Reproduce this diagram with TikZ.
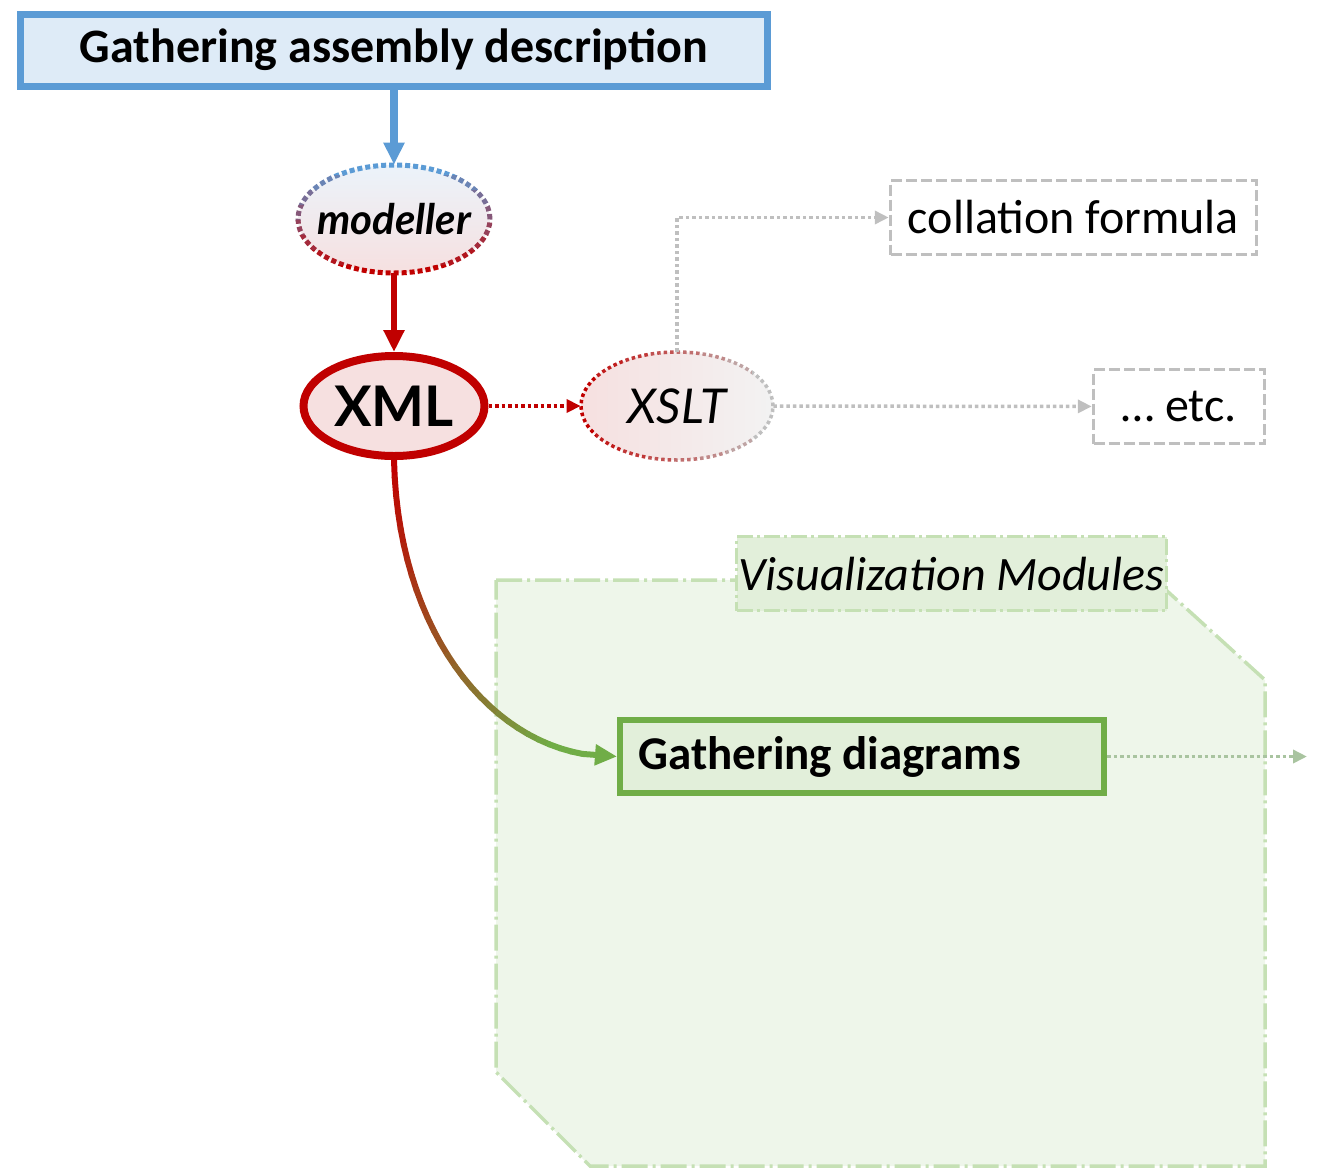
\documentclass[tikz,border=0pt]{standalone}
\usepackage{fontspec}
\setmainfont{Carlito}
\newfontfamily\gillfont{Lato}
\usetikzlibrary{arrows.meta,shapes.geometric}
\definecolor{blueline}{HTML}{5B9BD5}
\definecolor{bluefill}{HTML}{DEEBF7}
\definecolor{redline}{HTML}{C00000}
\definecolor{redfill}{HTML}{F6E0E0}
\definecolor{greyline}{HTML}{BFBFBF}
\definecolor{greenline}{HTML}{70AD47}
\definecolor{greenfill}{HTML}{E2EFDA}
\definecolor{greenpale}{HTML}{C5E0B4}
\definecolor{greenarea}{HTML}{EEF6EA}
\definecolor{greenout}{HTML}{A9C4A0}
\begin{document}
\begin{tikzpicture}[x=0.5pt,y=-0.5pt]
        \tikzstyle{bigfont}=[font=\fontsize{24}{28}\selectfont]
        \tikzstyle{topbox}=[rectangle,bigfont,draw=blueline,fill=bluefill,line width=3.5pt,minimum width=373.5pt,minimum height=36pt,inner sep=0pt]
        \tikzstyle{oval}=[ellipse,minimum width=96pt,minimum height=54pt,inner sep=0pt]
        \tikzstyle{greybox}=[rectangle,bigfont,draw=greyline,line width=1.75pt,dash pattern=on 5.5pt off 2pt,minimum height=37pt,inner sep=0pt]
        \tikzstyle{modbox}=[rectangle,bigfont,fill=greenfill,draw=greenpale,line width=1.75pt,dash pattern=on 8pt off 2pt on 1.5pt off 2pt,minimum width=215pt,minimum height=37pt,inner sep=0pt]
        \tikzstyle{diagbox}=[rectangle,draw=greenline,fill=greenfill,line width=3pt,minimum width=242pt,minimum height=36.5pt,inner sep=0pt]
        \tikzstyle{edge}=[draw,line width=3pt,-{Triangle[length=11pt,width=10pt]}]
        \tikzstyle{dotedge}=[draw,line width=1.75pt,dash pattern=on 1.75pt off 1.5pt,-{Triangle[length=7pt,width=6.5pt]}]
        \useasboundingbox (0,0) rectangle (1317,1168);
        % the visualization area
        \path[fill=greenarea,draw=greenpale,line width=1.75pt,dash pattern=on 13pt off 2.5pt on 1.5pt off 2.5pt]
          (496,580) -- (1155,580) -- (1265,680) -- (1265,1166) -- (590,1166) -- (496,1072) -- cycle;
        \node [modbox] (vis) at (951.5,573.5) {\itshape Visualization Modules};
        % nodes
        \node [topbox] (gad) at (394,50) {\bfseries Gathering assembly description};
        \node [oval,top color=bluefill!60!white,bottom color=redfill] (mod) at (394,219) {};
        \node [font=\gillfont\fontsize{21}{24}\selectfont\bfseries\itshape] (modtxt) at (mod) {modeller};
        \node [oval,draw=redline,fill=redfill,line width=4pt,minimum width=90.5pt,minimum height=50pt] (xml) at (394,406) {};
        \node [font=\gillfont\fontsize{28}{32}\selectfont\bfseries] (xmltxt) at (xml) {XML};
        \node [oval,left color=redfill,right color=black!5] (xslt) at (677,406) {};
        \node [font=\gillfont\fontsize{24}{28}\selectfont\itshape] (xslttxt) at (xslt) {XSLT};
        \node [greybox,minimum width=183pt] (coll) at (1073.5,217.5) {collation formula};
        \node [greybox,minimum width=85.5pt] (etc) at (1179,406.5) {\dots{} etc.};
        \node [diagbox] (gd) at (862,756.5) {};
        \node [font=\fontsize{23.5}{28}\selectfont\bfseries,anchor=west,inner sep=0pt] (gdtxt) at (638,756.5) {Gathering diagrams};
        \coordinate (out) at (1307,756.5);
        % dotted borders with changing colour
        \foreach \k in {0,...,7} {
          \pgfmathtruncatemacro\mixb{100-\k*100/7}
          \begin{scope}
            \clip (280,160+\k*15) rectangle (510,175+\k*15);
            \draw[blueline!\mixb!redline,line width=2.5pt,dash pattern=on 2.5pt off 1.5pt] (mod.center) ellipse [x radius=48pt,y radius=27pt];
          \end{scope}
          \begin{scope}
            \clip (570+\k*26,340) rectangle (596+\k*26,470);
            \draw[redline!\mixb!greyline,line width=1.75pt,dash pattern=on 1.75pt off 1.5pt] (xslt.center) ellipse [x radius=48pt,y radius=27pt];
          \end{scope}
        }
        % connectors
        \path[edge,blueline,line width=4pt] (gad) -- (mod);
        \path[edge,redline] (mod) -- (xml);
        \path[dotedge,redline] (xml) -- (xslt);
        \path[dotedge,greyline] (xslt.north) |- (coll.west);
        \path[dotedge,greyline] (xslt) -- (etc);
        \path[dotedge,greenout] (gd) -- (out);
        \path (xml.south) .. controls (398,640) and (500,760) .. (gd.west)
          \foreach \i in {0,...,30} {coordinate[pos=\i/30] (c\i)};
        \foreach \i [count=\j from 1] in {0,...,26} {
          \pgfmathtruncatemacro\mixc{100-\i*100/24}
          \pgfmathtruncatemacro\mixc{max(\mixc,0)}
          \draw[redline!\mixc!greenline,line width=3pt,line cap=round] (c\i) -- (c\j);
        }
        \path[edge,greenline] (c27) -- (gd.west);
      \end{tikzpicture}
\end{document}
